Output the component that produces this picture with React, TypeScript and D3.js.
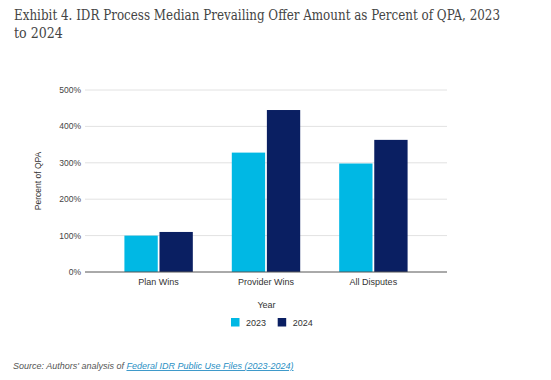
import React from "react";
import * as d3 from "d3";

const categories = ["Plan Wins", "Provider Wins", "All Disputes"];
const seriesNames = ["2023", "2024"];
const values2023 = [100, 328, 298];
const values2024 = [110, 445, 363];
const yTicks = [0, 100, 200, 300, 400, 500];
const colors = ["#00B8E4", "#0A1F62"];

const W = 551;
const H = 380;
const plotLeft = 85;
const plotRight = 447;
const plotTop = 90;
const plotBottom = 272;

export default function App() {
  const x = d3.scaleBand<string>().domain(categories).range([plotLeft, plotRight]).paddingInner(0.363).paddingOuter(0.367);
  const xi = d3.scaleBand<string>().domain(seriesNames).range([0, x.bandwidth()]).paddingInner(0.05);
  const y = d3.scaleLinear().domain([0, 500]).range([plotBottom, plotTop]);
  const series = [values2023, values2024];
  const sans = "'Liberation Sans', Arial, sans-serif";
  const serif = "'DejaVu Serif Condensed', 'DejaVu Serif', serif";

  return (
    <svg width={W} height={H} style={{ position: "absolute", left: 0, top: 0 }} fontFamily={sans}>
      <rect width={W} height={H} fill="#fff" />
      <text x={14} y={20} fontFamily={serif} fontSize={14} fill="#444" textLength={486} lengthAdjust="spacingAndGlyphs">
        Exhibit 4. IDR Process Median Prevailing Offer Amount as Percent of QPA, 2023
      </text>
      <text x={14} y={38} fontFamily={serif} fontSize={14} fill="#444">
        to 2024
      </text>
      {yTicks.map((t) => (
        <g key={t}>
          {t !== 0 && <line x1={plotLeft} x2={plotRight} y1={y(t)} y2={y(t)} stroke="#e2e2e2" strokeWidth={1} />}
          <text x={81} y={y(t) + 3} textAnchor="end" fontSize={8.5} fill="#444">
            {t}%
          </text>
        </g>
      ))}
      {categories.map((c, ci) =>
        series.map((vals, si) => (
          <rect
            key={c + si}
            x={(x(c) as number) + (xi(seriesNames[si]) as number)}
            y={y(vals[ci])}
            width={xi.bandwidth()}
            height={plotBottom - y(vals[ci])}
            fill={colors[si]}
          />
        ))
      )}
      <line x1={plotLeft} x2={plotRight} y1={plotBottom} y2={plotBottom} stroke="#555" strokeWidth={1} />
      {categories.map((c) => (
        <text key={c} x={(x(c) as number) + x.bandwidth() / 2} y={285} textAnchor="middle" fontSize={9} fill="#333">
          {c}
        </text>
      ))}
      <text transform={`translate(41,${(plotTop + plotBottom) / 2}) rotate(-90)`} textAnchor="middle" fontSize={8.5} fill="#333">
        Percent of QPA
      </text>
      <text x={266.5} y={308} textAnchor="middle" fontSize={9} fill="#333">
        Year
      </text>
      {seriesNames.map((s, i) => (
        <g key={s} transform={`translate(${231 + i * 46.7},0)`}>
          <rect x={0} y={318} width={8.5} height={8.5} fill={colors[i]} />
          <text x={15} y={326} fontSize={9} fill="#333">
            {s}
          </text>
        </g>
      ))}
      <text x={13} y={369} fontSize={9} fontStyle="italic" fill="#555">
        Source: Authors' analysis of{" "}
        <tspan fill="#2a8fc4" style={{ textDecoration: "underline" }}>
          Federal IDR Public Use Files (2023-2024)
        </tspan>
      </text>
    </svg>
  );
}
